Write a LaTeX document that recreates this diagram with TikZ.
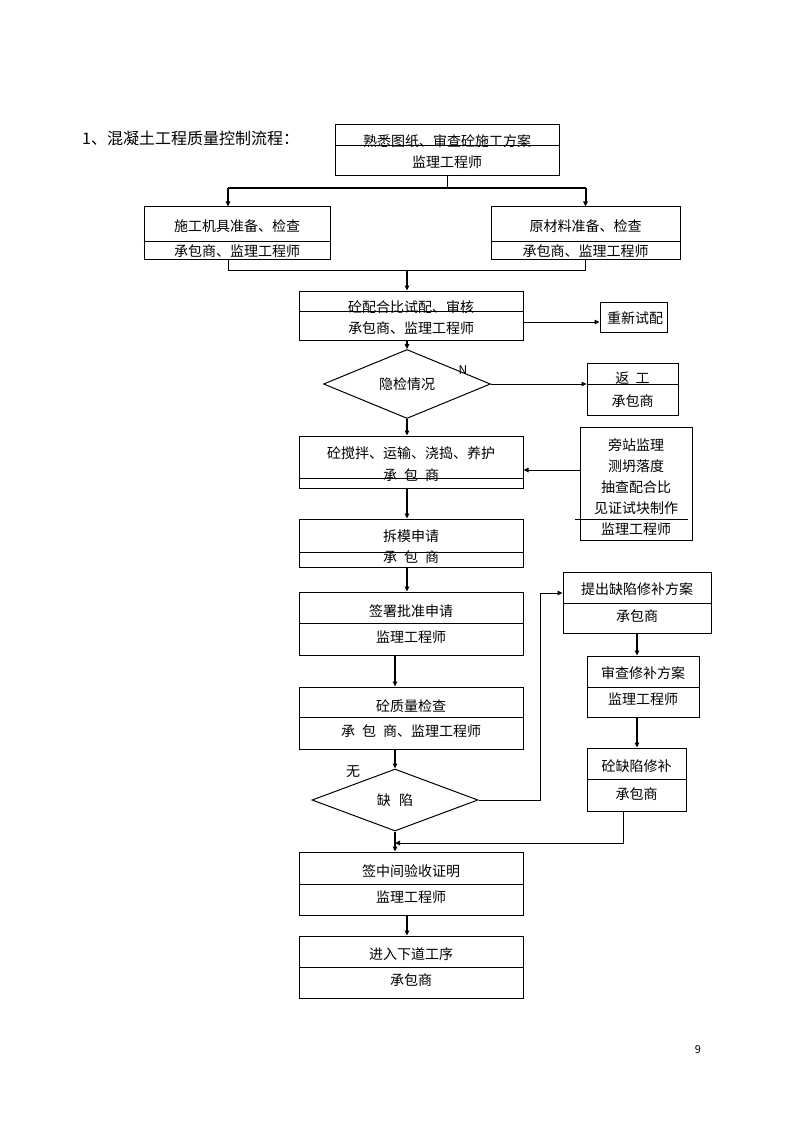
\documentclass[tikz,border=0pt]{standalone}
\usepackage{fontspec}
\setmainfont{Noto Sans CJK SC}
\usepackage{tikz}
\usetikzlibrary{shapes.geometric,arrows.meta,positioning,calc}

\begin{document}
\begin{tikzpicture}[x=1pt,y=-1pt,
    box/.style={draw,line width=1pt,inner sep=0pt},
    decide/.style={draw,diamond,line width=1pt,inner sep=0pt,font=\fontsize{14}{16}\selectfont},
    txt/.style={inner sep=0pt,font=\fontsize{14}{16}\selectfont},
    arr/.style={-{Triangle[length=5pt,width=4.5pt]},line width=1pt},
    flow/.style={-{Triangle[length=5pt,width=4.5pt]},line width=2pt}]
    \useasboundingbox (0,0) rectangle (794,1123);

    \node[txt,anchor=west,font=\fontsize{16}{18}\selectfont] (title) at (82,138) {1、混凝土工程质量控制流程：};

    % main column
    \node[box,minimum width=224,minimum height=51] (a) at (447,150.5) {};
    \node[txt] (a1) at (447,141) {熟悉图纸、审查砼施工方案};
    \node[txt] (a2) at (447,162) {监理工程师};

    \node[box,minimum width=186,minimum height=52] (b) at (237,233) {};
    \node[txt] (b1) at (237,226) {施工机具准备、检查};
    \node[txt] (b2) at (237,251) {承包商、监理工程师};

    \node[box,minimum width=189,minimum height=52] (c) at (585.5,233) {};
    \node[txt] (c1) at (585.5,226) {原材料准备、检查};
    \node[txt] (c2) at (585.5,251) {承包商、监理工程师};

    \node[box,minimum width=224,minimum height=49] (d) at (411,315.5) {};
    \node[txt] (d1) at (411,307) {砼配合比试配、审核};
    \node[txt] (d2) at (411,328) {承包商、监理工程师};

    \node[box,minimum width=67,minimum height=30] (e) at (633.5,317) {};
    \node[txt] (e1) at (635,318) {重新试配};

    \node[decide,minimum width=167,minimum height=61] (f) at (407,384) {隐检情况};
    \node[txt,font=\fontsize{12}{13}\selectfont] (fn) at (463,370) {N};

    \node[box,minimum width=91,minimum height=52] (g) at (632.5,389) {};
    \node[txt] (g1) at (632.5,378) {返\hspace{0.45em}工};
    \node[txt] (g2) at (632.5,401) {承包商};

    \node[box,minimum width=224,minimum height=52] (h) at (411,462) {};
    \node[txt] (h1) at (411,453) {砼搅拌、运输、浇捣、养护};
    \node[txt] (h2) at (411,475) {承\hspace{0.5em}包\hspace{0.5em}商};

    \node[box,minimum width=112,minimum height=113] (i) at (636,483.5) {};
    \node[txt,align=center,font=\fontsize{14}{21}\selectfont] (i1) at (636,477) {旁站监理\\测坍落度\\抽查配合比\\见证试块制作};
    \node[txt] (i2) at (636,529) {监理工程师};

    \node[box,minimum width=224,minimum height=48] (j) at (411,543) {};
    \node[txt] (j1) at (411,536) {拆模申请};
    \node[txt] (j2) at (411,557) {承\hspace{0.5em}包\hspace{0.5em}商};

    \node[box,minimum width=224,minimum height=63] (k) at (411,623.5) {};
    \node[txt] (k1) at (411,611) {签署批准申请};
    \node[txt] (k2) at (411,637) {监理工程师};

    \node[box,minimum width=224,minimum height=62] (l) at (411,718) {};
    \node[txt] (l1) at (411,706) {砼质量检查};
    \node[txt] (l2) at (411,731) {承\hspace{0.5em}包\hspace{0.5em}商、监理工程师};

    \node[decide,minimum width=166,minimum height=62] (m) at (395,800) {缺\hspace{0.6em}陷};
    \node[txt] (m1) at (353,772) {无};

    \node[box,minimum width=224,minimum height=63] (n) at (411,883.5) {};
    \node[txt] (n1) at (411,871) {签中间验收证明};
    \node[txt] (n2) at (411,897) {监理工程师};

    \node[box,minimum width=224,minimum height=62] (o) at (411,967) {};
    \node[txt] (o1) at (411,954) {进入下道工序};
    \node[txt] (o2) at (411,980) {承包商};

    % repair loop
    \node[box,minimum width=148,minimum height=61] (p) at (637,602.5) {};
    \node[txt] (p1) at (637,589) {提出缺陷修补方案};
    \node[txt] (p2) at (637,616) {承包商};

    \node[box,minimum width=112,minimum height=61] (q) at (643,686.5) {};
    \node[txt] (q1) at (643,673) {审查修补方案};
    \node[txt] (q2) at (643,699) {监理工程师};

    \node[box,minimum width=99,minimum height=63] (r) at (636.5,779.5) {};
    \node[txt] (r1) at (636.5,766) {砼缺陷修补};
    \node[txt] (r2) at (636.5,794) {承包商};

    \node[font=\fontsize{11}{12}\selectfont] (pg) at (698,1050) {9};

    % row dividers
    \foreach \n/\y in {a/146,b/241,c/241,d/311,g/384,h/478,j/552,k/623,l/717,n/884,o/967,p/603,q/687,r/779} {
        \draw[line width=1pt] (\n.west |- 0,\y) -- (\n.east |- 0,\y);
    }
    \draw[line width=1pt] ([xshift=-5pt]i.west |- 0,519) -- ([xshift=-5pt]i.east |- 0,519);

    % connectors
    \coordinate (bn) at ([xshift=-9pt]b.north);
    \coordinate (bs) at ([xshift=-9pt]b.south);
    \draw[line width=1pt] (a.south) -- (a.south |- 0,188) coordinate (ja);
    \draw[line width=1.5pt] (bn |- ja) -- (c.north |- ja);
    \draw[flow] (bn |- ja) -- (bn);
    \draw[flow] (c.north |- ja) -- (c.north);
    \draw[line width=1pt] (bs) -- (bs |- 0,270) coordinate (jb) -- (c.south |- jb) -- (c.south);
    \draw[flow] (f.north |- jb) -- (f.north |- d.north);
    \draw[arr] (d.east |- 0,322) -- (e.west |- 0,322);
    \draw[arr,line width=1.5pt] (f.north |- d.south) -- (f.north);
    \draw[arr] (f.east) -- (g.west |- f.east);
    \draw[flow] (f.south) -- (f.south |- h.north);
    \draw[arr] (i.west |- 0,470) -- (h.east |- 0,470);
    \draw[flow] (f.south |- h.south) -- (f.south |- j.north);
    \draw[flow] (f.south |- j.south) -- (f.south |- k.north);
    \draw[flow] (m.north |- k.south) -- (m.north |- l.north);
    \draw[flow] (m.north |- l.south) -- (m.north);
    \draw[flow] (m.south) -- (m.south |- n.north);
    \coordinate (mp) at (m.east -| 540,0);
    \draw[arr] (m.east) -- (mp) |- (p.west |- 0,593);
    \draw[flow] (p.south) -- (p.south |- q.north);
    \draw[flow] (p.south |- q.south) -- (p.south |- r.north);
    \coordinate (rs) at ([xshift=-13pt]r.south);
    \draw[arr] (rs) |- (m.south |- 0,843);
    \draw[flow] (f.south |- n.south) -- (f.south |- o.north);
\end{tikzpicture}
\end{document}
